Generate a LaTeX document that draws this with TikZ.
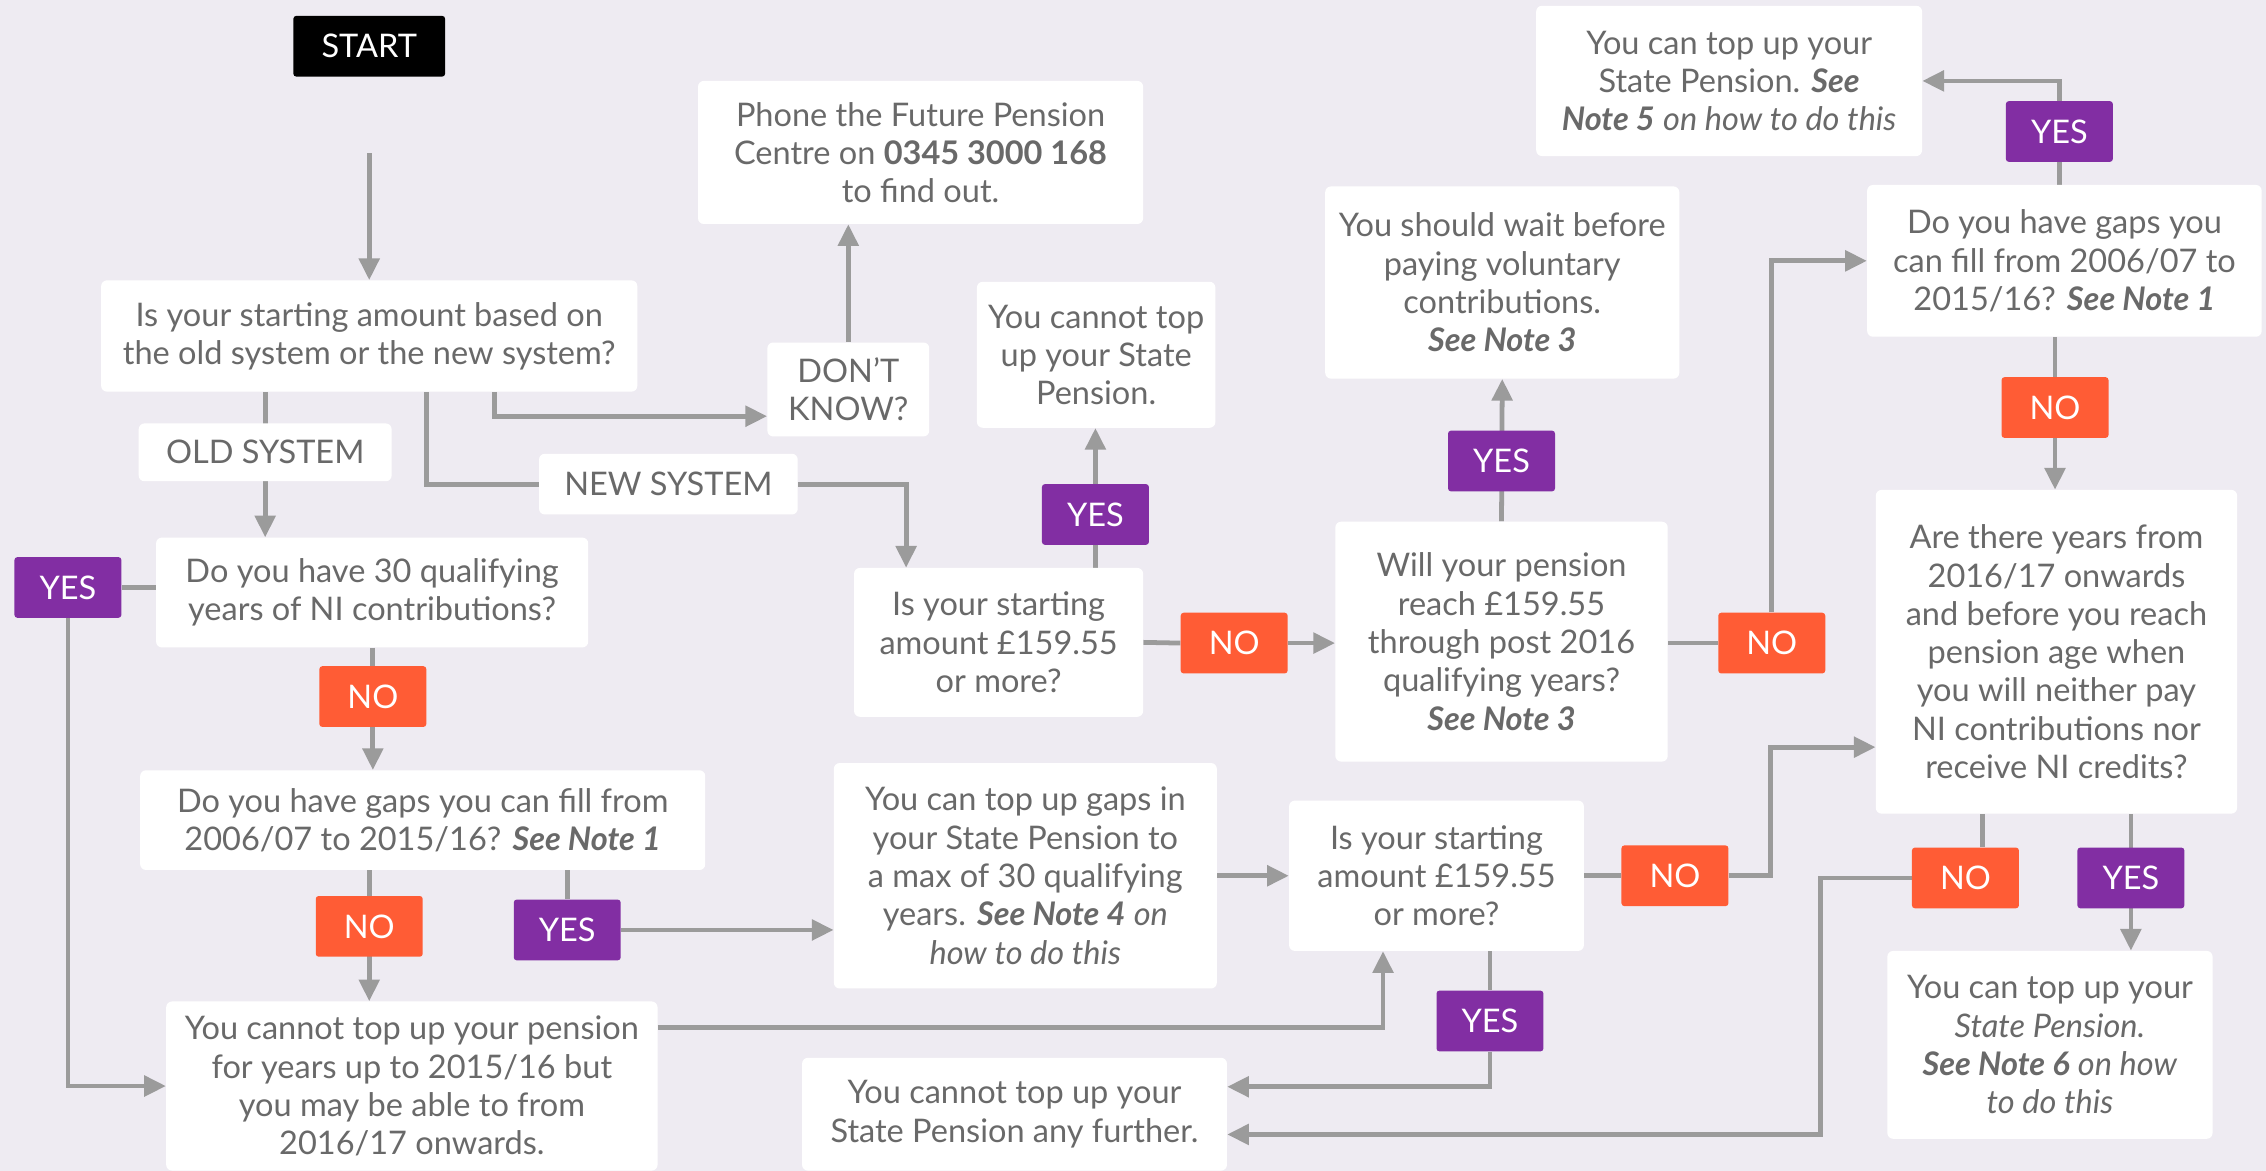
\documentclass[tikz,border=0pt]{standalone}
\usepackage{fontspec}
\setmainfont{Lato}
\usetikzlibrary{arrows.meta}
\definecolor{bgc}{RGB}{238,235,242}
\definecolor{ypurple}{RGB}{130,46,163}
\definecolor{norange}{RGB}{255,92,53}
\definecolor{lgray}{RGB}{155,155,155}
\definecolor{tgray}{RGB}{105,105,105}
\pgfdeclarelayer{bglayer}
\pgfdeclarelayer{linelayer}
\pgfsetlayers{bglayer,linelayer,main}
\newcommand{\fnt}{\fontsize{22.5}{26.5}\selectfont}
\newcommand{\nb}[1]{\textbf{\textit{#1}}}
\tikzset{
 wbox/.style={fill=white, rounded corners=4pt, align=center, text=tgray, inner sep=0pt, font=\fnt},
 flag/.style={rounded corners=2pt, text=white, inner sep=0pt, minimum width=74pt, minimum height=42pt, font=\fnt},
 yesflag/.style={flag, fill=ypurple},
 noflag/.style={flag, fill=norange},
 seg/.style={draw=lgray, line width=3.3pt},
 conn/.style={seg, -{Triangle[length=15pt,width=14pt]}},
}
\begin{document}
\begin{tikzpicture}[x=1pt,y=-1pt]
\useasboundingbox (0,0) rectangle (1568,810);
\begin{pgfonlayer}{bglayer}
\fill[bgc] (0,0) rectangle (1568,810);
\end{pgfonlayer}

% nodes
\node[fill=black, rounded corners=2pt, text=white, minimum width=105pt, minimum height=42pt, inner sep=0pt, font=\fnt] (start) at (255.5,32) {START};
\coordinate (s0) at (255.5,106);
\node[wbox, minimum width=371pt, minimum height=77pt] (q1) at (255.5,232.5) {Is your starting amount based on\\the old system or the new system?};
\node[wbox, minimum width=175pt, minimum height=40pt] (old) at (183.5,313) {OLD SYSTEM};
\node[wbox, minimum width=179pt, minimum height=42pt] (newl) at (462.5,335) {NEW SYSTEM};
\node[wbox, minimum width=112pt, minimum height=65pt] (dk) at (587,269.5) {DON’T\\KNOW?};
\node[wbox, minimum width=308pt, minimum height=99pt] (phone) at (637,105.5) {Phone the Future Pension\\Centre on \textbf{0345 3000 168}\\to find out.};
\node[wbox, minimum width=299pt, minimum height=76pt] (q2) at (257.5,410) {Do you have 30 qualifying\\years of NI contributions?};
\node[yesflag] (yesL) at (47,406.5) {YES};
\node[noflag] (no2) at (258,482) {NO};
\node[wbox, minimum width=391pt, minimum height=69pt] (q3) at (292.5,567.5) {Do you have gaps you can fill from\\2006/07 to 2015/16? \nb{See Note 1}};
\node[noflag] (no3) at (255.5,641) {NO};
\node[yesflag] (yes3) at (392.5,643.5) {YES};
\node[wbox, minimum width=340pt, minimum height=117pt] (q5) at (285,751.5) {You cannot top up your pension\\for years up to 2015/16 but\\you may be able to from\\2016/17 onwards.};
\node[wbox, minimum width=265pt, minimum height=156pt] (rgaps) at (709.5,606) {You can top up gaps in\\your State Pension to\\a max of 30 qualifying\\years. \nb{See Note 4} \textit{on}\\\textit{how to do this}};
\node[wbox, minimum width=204pt, minimum height=104pt] (q9) at (994,606) {Is your starting\\amount £159.55\\or more?};
\node[noflag] (no9) at (1159,606) {NO};
\node[yesflag] (yes9) at (1031,706.5) {YES};
\node[wbox, minimum width=294pt, minimum height=78pt] (rfurther) at (702,771) {You cannot top up your\\State Pension any further.};
\node[wbox, minimum width=200pt, minimum height=103pt] (qnew) at (691,444.5) {Is your starting\\amount £159.55\\or more?};
\node[yesflag] (yesN) at (758,356) {YES};
\node[noflag] (noN) at (854,445) {NO};
\node[wbox, minimum width=165pt, minimum height=101pt] (rcannot) at (758.5,245.5) {You cannot top\\up your State\\Pension.};
\node[wbox, minimum width=230pt, minimum height=166pt] (qwill) at (1039,444) {Will your pension\\reach £159.55\\through post 2016\\qualifying years?\\\nb{See Note 3}};
\node[yesflag] (yesW) at (1039,319) {YES};
\node[noflag] (noW) at (1226,445) {NO};
\node[wbox, minimum width=245pt, minimum height=133pt] (rwait) at (1039.5,195.5) {You should wait before\\paying voluntary\\contributions.\\\nb{See Note 3}};
\node[wbox, minimum width=273pt, minimum height=105pt] (qg2) at (1428.5,180.5) {Do you have gaps you\\can fill from 2006/07 to\\2015/16? \nb{See Note 1}};
\node[yesflag] (yesG) at (1425,91) {YES};
\node[noflag] (noG) at (1422,282) {NO};
\node[wbox, minimum width=267pt, minimum height=104pt] (rtop5) at (1196.5,56) {You can top up your\\State Pension. \nb{See}\\\nb{Note 5} \textit{on how to do this}};
\node[wbox, minimum width=250pt, minimum height=224pt] (qare) at (1423,451) {Are there years from\\2016/17 onwards\\and before you reach\\pension age when\\you will neither pay\\NI contributions nor\\receive NI credits?};
\node[noflag] (noA) at (1360,607.5) {NO};
\node[yesflag] (yesA) at (1474.5,607.5) {YES};
\node[wbox, minimum width=225pt, minimum height=130pt] (rtop6) at (1418.5,723) {You can top up your\\\textit{State Pension.}\\\nb{See Note 6} \textit{on how}\\\textit{to do this}};
\coordinate (naTop) at ([xshift=12pt]noA.north);

% connectors
\begin{pgfonlayer}{linelayer}
\draw[conn] (s0) -- (q1.north);
\draw[conn] (q1.south -| old) -- (q2.north -| old);
\draw[seg] ([xshift=39.5pt]q1.south) |- (newl.west);
\draw[conn] (newl.east) -| ([xshift=-64pt]qnew.north);
\draw[conn] ([xshift=86.5pt]q1.south) |- ([yshift=-18.5pt]dk.west);
\draw[conn] (dk.north) -- (dk.north |- phone.south);
\draw[conn] (q2.south -| no2) -- (q3.north -| no2);
\draw[seg] (q2.west |- yesL) -- (yesL.east);
\draw[conn] (yesL.south) |- (q5.west);
\draw[conn] (q3.south -| no3) -- (q5.north -| no3);
\draw[seg] (q3.south -| yes3) -- (yes3.north);
\draw[conn] (yes3.east) -- (yes3.east -| rgaps.west);
\draw[conn] (rgaps.east) -- (q9.west);
\draw[conn] ([yshift=40.5pt]q5.east) -| ([xshift=-37pt]q9.south);
\draw[seg] (q9.east) -- (no9.west);
\draw[conn] (no9.east) -- ([xshift=29pt]no9.east) |- ([yshift=-66pt]qare.west);
\draw[seg] (q9.south -| yes9) -- (yes9.north);
\draw[conn] (yes9.south) |- ([yshift=19pt]rfurther.east);
\draw[conn] (qnew.north -| yesN) -- (rcannot.south -| yesN);
\draw[seg] (qnew.east) -- (noN.west);
\draw[conn] (noN.east) -- (qwill.west |- noN);
\draw[conn] (qwill.north) -- (rwait.south);
\draw[seg] (qwill.east |- noW) -- (noW.west);
\draw[conn] (noW.north) |- (qg2.west);
\draw[conn] (qg2.north -| yesG) |- (rtop5.east);
\draw[conn] (qg2.south -| noG) -- (qare.north -| noG);
\draw[seg] (qare.south -| naTop) -- (naTop);
\draw[conn] (noA.west) -- ([xshift=-63pt]noA.west) |- ([yshift=-14pt]rfurther.east);
\draw[conn] (qare.south -| yesA) -- (rtop6.north -| yesA);
\end{pgfonlayer}
\end{tikzpicture}
\end{document}
